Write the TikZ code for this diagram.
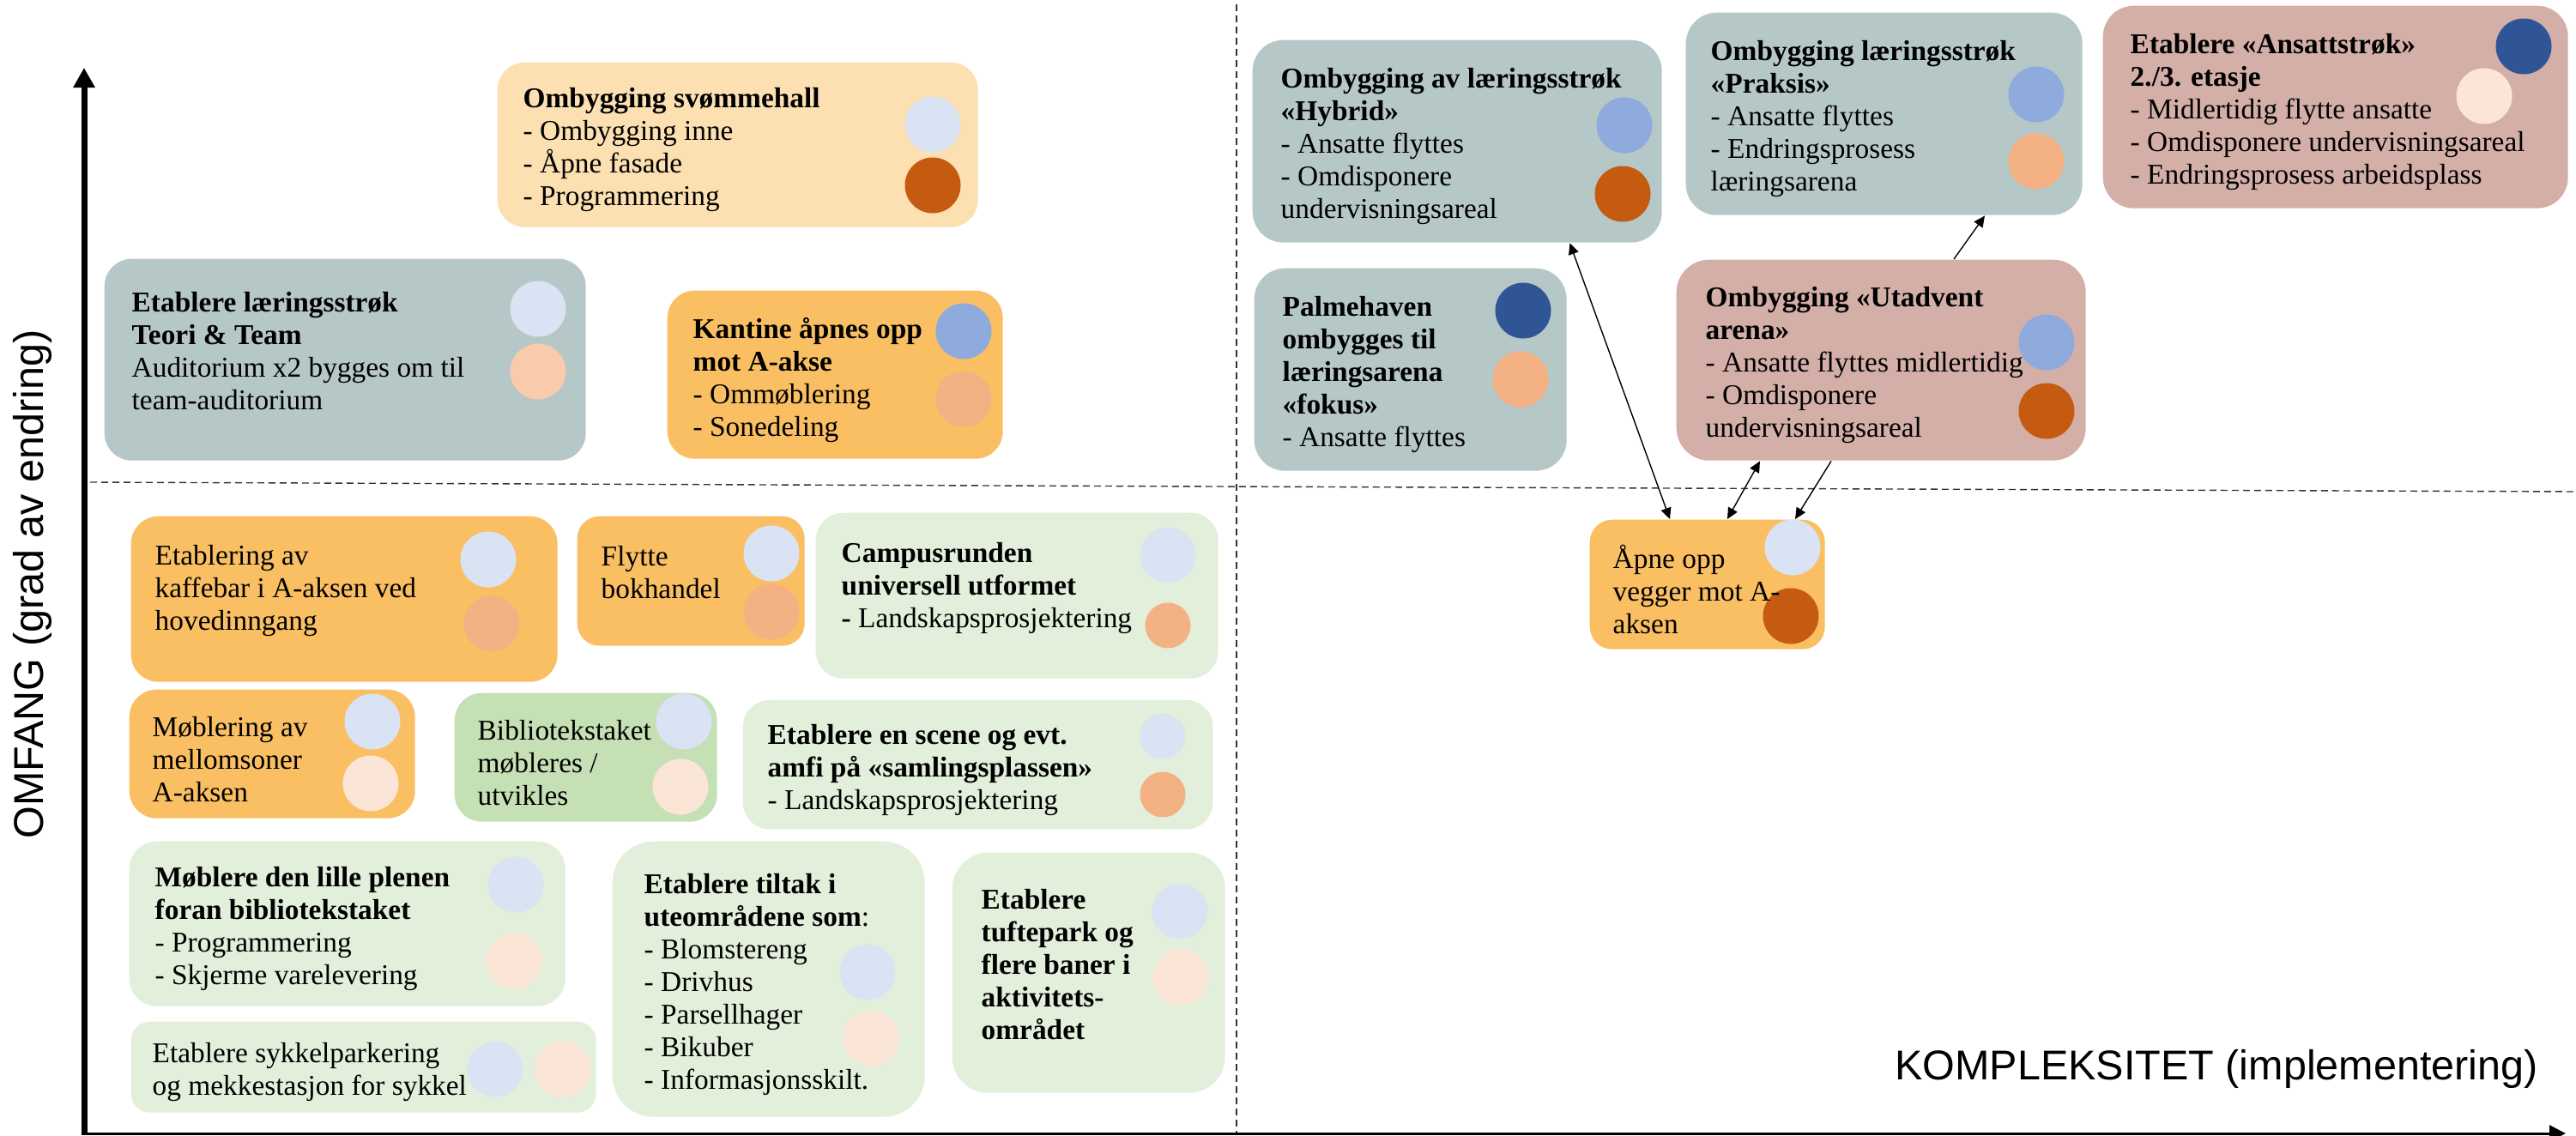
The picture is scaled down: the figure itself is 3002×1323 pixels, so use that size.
\documentclass[tikz,border=0pt]{standalone}
\usepackage{fontspec}
\setmainfont{Liberation Serif}
\newfontfamily\aksefont{Liberation Sans}
\usetikzlibrary{arrows.meta, positioning}

\definecolor{graagronn}{RGB}{181,199,198}
\definecolor{rosabrun}{RGB}{211,175,168}
\definecolor{lysoransje}{RGB}{252,224,178}
\definecolor{oransje}{RGB}{250,191,99}
\definecolor{lysgronn}{RGB}{197,224,180}
\definecolor{blekgronn}{RGB}{226,239,218}
\definecolor{lysblaa}{RGB}{218,227,243}
\definecolor{blaa}{RGB}{143,170,220}
\definecolor{morkblaa}{RGB}{47,85,151}
\definecolor{fersken}{RGB}{244,177,131}
\definecolor{lysfersken}{RGB}{248,203,173}
\definecolor{blekfersken}{RGB}{251,229,214}
\definecolor{brent}{RGB}{197,90,17}

\begin{document}
\begin{tikzpicture}[
    x=0.1mm, y=-0.1mm,
    font=\fontsize{9.5}{10.8}\selectfont,
    >={Triangle[length=1.3mm, width=1.2mm]},
    tiltak/.style={rectangle, rounded corners=3.2mm, anchor=north west, inner sep=0pt},
    tekst/.style={anchor=west, align=left, inner sep=0pt, yshift=-0.6mm},
    dot/.style={circle, minimum size=6.5mm, inner sep=0pt},
    smadot/.style={dot, minimum size=5.3mm},
    pil/.style={thin, black},
    skille/.style={thin, black!80, dash pattern=on 0.8mm off 0.5mm},
    akse/.style={black}
]
\useasboundingbox (0,0) rectangle (3002,1323);

% Axes and quadrant lines
\coordinate (origo) at (98,1323);
\coordinate (ytopp) at (98,79);
\coordinate (xstart) at (98,1321);
\coordinate (xende) at (2990,1321);
\coordinate (hv) at (105,562);
\coordinate (hh) at (3002,573);
\coordinate (vo) at (1441,5);
\coordinate (vn) at (1441,1321);

\draw[skille] (hv) -- (hh);
\draw[skille] (vo) -- (vn);
\draw[akse, line width=0.7mm, -{Triangle[length=2.3mm, width=2.4mm]}] (origo) -- (ytopp);
\draw[akse, line width=0.3mm, -{Triangle[length=1.9mm, width=1.9mm]}] (xstart) -- (xende);

\node[rotate=90, font=\aksefont\fontsize{13.8}{16}\selectfont] (omfang) at (38,681) {OMFANG (grad av endring)};
\node[font=\aksefont\fontsize{13.8}{16}\selectfont] (kompleks) at (2583,1246) {KOMPLEKSITET (implementering)};

% Upper left
\node[tiltak, fill=lysoransje, minimum width=56mm, minimum height=19.2mm] (svom) at (579,72) {};
\node[tiltak, fill=graagronn, minimum width=56.1mm, minimum height=23.5mm] (teori) at (121,301) {};
\node[tiltak, fill=oransje, minimum width=39.1mm, minimum height=19.6mm] (kantine) at (777,338) {};

% Upper right
\node[tiltak, fill=graagronn, minimum width=47.7mm, minimum height=23.6mm, rounded corners=3.6mm] (hybrid) at (1459,46) {};
\node[tiltak, fill=graagronn, minimum width=36.4mm, minimum height=23.6mm, rounded corners=3.6mm] (palme) at (1461,312) {};
\node[tiltak, fill=graagronn, minimum width=46.2mm, minimum height=23.6mm, rounded corners=3.6mm] (praksis) at (1964,14) {};
\node[tiltak, fill=rosabrun, minimum width=54.2mm, minimum height=23.6mm, rounded corners=3.6mm] (ansatt) at (2450,6) {};
\node[tiltak, fill=rosabrun, minimum width=47.7mm, minimum height=23.4mm, rounded corners=3.8mm] (utadvent) at (1953,302) {};

% Lower right
\node[tiltak, fill=oransje, minimum width=27.4mm, minimum height=15.1mm, rounded corners=2.6mm] (aapne) at (1852,605) {};

% Lower left
\node[tiltak, fill=oransje, minimum width=49.7mm, minimum height=19.3mm] (kaffe) at (152,601) {};
\node[tiltak, fill=oransje, minimum width=26.5mm, minimum height=15.1mm, rounded corners=2.6mm] (bokhandel) at (672,601) {};
\node[tiltak, fill=blekgronn, minimum width=46.9mm, minimum height=19.3mm] (campus) at (950,597) {};
\node[tiltak, fill=oransje, minimum width=33.3mm, minimum height=15mm] (mellom) at (150,803) {};
\node[tiltak, fill=lysgronn, minimum width=30.6mm, minimum height=15mm] (biblio) at (529,807) {};
\node[tiltak, fill=blekgronn, minimum width=54.8mm, minimum height=15.1mm] (scene) at (865,815) {};
\node[tiltak, fill=blekgronn, minimum width=50.8mm, minimum height=19.2mm] (plenen) at (150,980) {};
\node[tiltak, fill=blekgronn, minimum width=54.2mm, minimum height=10.6mm, rounded corners=2.2mm] (sykkel) at (152,1190) {};
\node[tiltak, fill=blekgronn, minimum width=36.4mm, minimum height=32.1mm, rounded corners=4.8mm] (ute) at (713,980) {};
\node[tiltak, fill=blekgronn, minimum width=31.8mm, minimum height=28mm, rounded corners=4.2mm] (tufte) at (1109,993) {};

% Circles
\node[dot, fill=lysblaa] (svom1) at (1087,145) {};
\node[dot, fill=brent] (svom2) at (1087,216) {};
\node[dot, fill=lysblaa] (teori1) at (627,360) {};
\node[dot, fill=lysfersken] (teori2) at (627,433) {};
\node[dot, fill=blaa] (kantine1) at (1123,386) {};
\node[dot, fill=fersken] (kantine2) at (1123,465) {};
\node[dot, fill=blaa] (hybrid1) at (1893,146) {};
\node[dot, fill=brent] (hybrid2) at (1891,226) {};
\node[dot, fill=morkblaa] (palme1) at (1775,362) {};
\node[dot, fill=fersken] (palme2) at (1772,442) {};
\node[dot, fill=blaa] (praksis1) at (2373,110) {};
\node[dot, fill=fersken] (praksis2) at (2373,188) {};
\node[dot, fill=morkblaa] (ansatt1) at (2941,54) {};
\node[dot, fill=blekfersken] (ansatt2) at (2895,112) {};
\node[dot, fill=blaa] (utadvent1) at (2385,399) {};
\node[dot, fill=brent] (utadvent2) at (2385,479) {};
\node[dot, fill=lysblaa] (aapne1) at (2089,638) {};
\node[dot, fill=brent] (aapne2) at (2087,718) {};
\node[dot, fill=lysblaa] (kaffe1) at (569,652) {};
\node[dot, fill=fersken] (kaffe2) at (573,727) {};
\node[dot, fill=lysblaa] (bok1) at (899,645) {};
\node[dot, fill=fersken] (bok2) at (899,713) {};
\node[dot, fill=lysblaa] (campus1) at (1361,647) {};
\node[smadot, fill=fersken] (campus2) at (1361,729) {};
\node[dot, fill=lysblaa] (mellom1) at (434,841) {};
\node[dot, fill=blekfersken] (mellom2) at (432,913) {};
\node[dot, fill=lysblaa] (biblio1) at (797,841) {};
\node[dot, fill=blekfersken] (biblio2) at (793,917) {};
\node[smadot, fill=lysblaa] (scene1) at (1355,858) {};
\node[smadot, fill=fersken] (scene2) at (1355,926) {};
\node[dot, fill=lysblaa] (plenen1) at (601,1031) {};
\node[dot, fill=blekfersken] (plenen2) at (599,1120) {};
\node[dot, fill=lysblaa] (sykkel1) at (577,1246) {};
\node[dot, fill=blekfersken] (sykkel2) at (656,1246) {};
\node[dot, fill=lysblaa] (ute1) at (1011,1133) {};
\node[dot, fill=blekfersken] (ute2) at (1015,1210) {};
\node[dot, fill=lysblaa] (tufte1) at (1375,1062) {};
\node[dot, fill=blekfersken] (tufte2) at (1376,1139) {};

% Texts
\node[tekst] (svomtxt) at ([xshift=3mm]svom.west) {\textbf{Ombygging svømmehall}\\- Ombygging inne\\- Åpne fasade\\- Programmering};
\node[tekst] (teoritxt) at ([xshift=3.2mm, yshift=1.6mm]teori.west) {\textbf{Etablere læringsstrøk}\\\textbf{Teori \& Team}\\Auditorium x2 bygges om til\\team-auditorium};
\node[tekst] (kantinetxt) at ([xshift=3mm]kantine.west) {\textbf{Kantine åpnes opp}\\\textbf{mot A-akse}\\- Ommøblering\\- Sonedeling};
\node[tekst] (hybridtxt) at ([xshift=3.3mm]hybrid.west) {\textbf{Ombygging av læringsstrøk}\\\textbf{«Hybrid»}\\- Ansatte flyttes\\- Omdisponere\\undervisningsareal};
\node[tekst] (palmetxt) at ([xshift=3.3mm]palme.west) {\textbf{Palmehaven}\\\textbf{ombygges til}\\\textbf{læringsarena}\\\textbf{«fokus»}\\- Ansatte flyttes};
\node[tekst] (prakstxt) at ([xshift=2.9mm]praksis.west) {\textbf{Ombygging læringsstrøk}\\\textbf{«Praksis»}\\- Ansatte flyttes\\- Endringsprosess\\læringsarena};
\node[tekst] (ansatttxt) at ([xshift=3.2mm]ansatt.west) {\textbf{Etablere «Ansattstrøk»}\\\textbf{2./3. etasje}\\- Midlertidig flytte ansatte\\- Omdisponere undervisningsareal\\- Endringsprosess arbeidsplass};
\node[tekst] (utadtxt) at ([xshift=3.4mm]utadvent.west) {\textbf{Ombygging «Utadvent}\\\textbf{arena»}\\- Ansatte flyttes midlertidig\\- Omdisponere\\undervisningsareal};
\node[tekst] (aapnetxt) at ([xshift=2.7mm]aapne.west) {Åpne opp\\vegger mot A-\\aksen};
\node[tekst] (kaffetxt) at ([xshift=2.8mm, yshift=1.6mm]kaffe.west) {Etablering av\\kaffebar i A-aksen ved\\hovedinngang};
\node[tekst] (boktxt) at ([xshift=2.8mm, yshift=1.6mm]bokhandel.west) {Flytte\\bokhandel};
\node[tekst] (campustxt) at ([xshift=3mm, yshift=1.5mm]campus.west) {\textbf{Campusrunden}\\\textbf{universell utformet}\\\textbf{-} Landskapsprosjektering};
\node[tekst] (mellomtxt) at ([xshift=2.7mm]mellom.west) {Møblering av\\mellomsoner\\A-aksen};
\node[tekst] (bibliotxt) at ([xshift=2.7mm]biblio.west) {Bibliotekstaket\\møbleres /\\utvikles};
\node[tekst] (scenetxt) at ([xshift=2.9mm]scene.west) {\textbf{Etablere en scene og evt.}\\\textbf{amfi på «samlingsplassen»}\\- Landskapsprosjektering};
\node[tekst] (plenentxt) at ([xshift=3mm]plenen.west) {\textbf{Møblere den lille plenen}\\\textbf{foran bibliotekstaket}\\- Programmering\\- Skjerme varelevering};
\node[tekst] (sykkeltxt) at ([xshift=2.5mm]sykkel.west) {Etablere sykkelparkering\\og mekkestasjon for sykkel};
\node[tekst] (utetxt) at ([xshift=3.7mm]ute.west) {\textbf{Etablere tiltak i}\\\textbf{uteområdene som}:\\- Blomstereng\\- Drivhus\\- Parsellhager\\- Bikuber\\- Informasjonsskilt.};
\node[tekst] (tuftetxt) at ([xshift=3.4mm, yshift=1.6mm]tufte.west) {\textbf{Etablere}\\\textbf{tuftepark og}\\\textbf{flere baner i}\\\textbf{aktivitets-}\\\textbf{området}};

% Dependencies
\draw[pil, <->] ([xshift=-10.8mm]hybrid.south east) -- ([xshift=9.4mm]aapne.north west);
\draw[pil, <->] ([xshift=9.8mm]utadvent.south west) -- ([xshift=16.1mm]aapne.north west);
\draw[pil, ->] ([xshift=18.1mm]utadvent.south west) -- ([xshift=24mm]aapne.north west);
\draw[pil, ->] ([xshift=32.4mm]utadvent.north west) -- ([xshift=34.9mm]praksis.south west);

\end{tikzpicture}
\end{document}
